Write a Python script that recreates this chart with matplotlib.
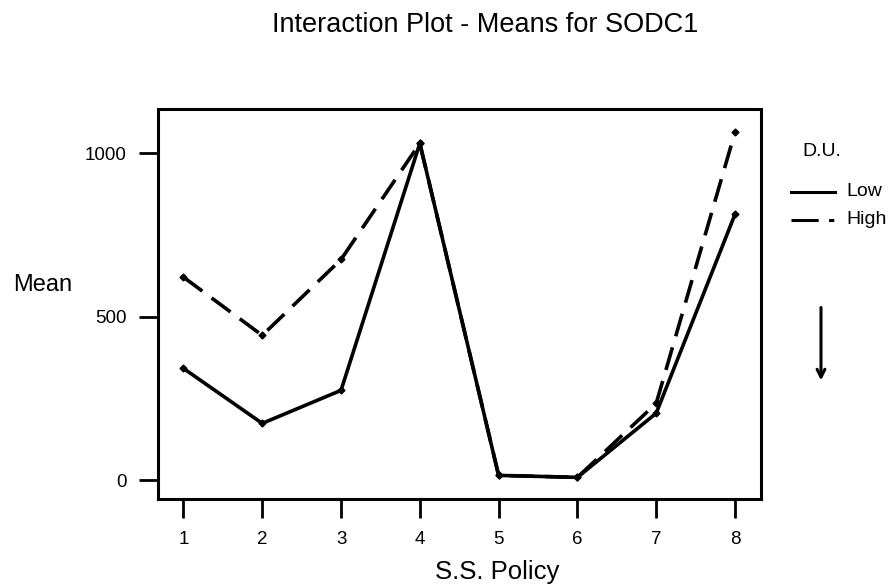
import matplotlib.pyplot as plt
import numpy as np

plt.rcParams['font.family'] = ['Liberation Sans', 'DejaVu Sans']

POLICY = [1, 2, 3, 4, 5, 6, 7, 8]
LOW = [342, 174, 275, 1030, 15, 9, 205, 813]
HIGH = [621, 443, 675, 1030, 15, 9, 235, 1064]
SERIES = ['Low', 'High']
YTICKS = [0, 500, 1000]

fig = plt.figure(figsize=(8.89, 5.86), dpi=100)
ax = fig.add_axes([0.178, 0.148, 0.678, 0.666])

# lines
ax.plot(POLICY, LOW, color='black', linewidth=2.6, linestyle='-',
        marker='D', markersize=3.5)
ax.plot(POLICY, HIGH, color='black', linewidth=2.6, linestyle=(0, (6.5, 3.2)),
        marker='D', markersize=3.5)

# axes
ax.set_xlim(0.68, 8.33)
ax.set_ylim(-58, 1135)
ax.set_xticks(POLICY)
ax.set_yticks(YTICKS)
ax.tick_params(direction='out', length=14, width=2, labelsize=13.5, pad=9)
for s in ax.spines.values():
    s.set_linewidth(2.2)

fig.text(0.559, 0.012, 'S.S. Policy', fontsize=18.5, ha='center', va='baseline')
fig.text(0.0146, 0.514, 'Mean', fontsize=17, ha='left', va='center')
fig.text(0.546, 0.957, 'Interaction Plot - Means for SODC1', fontsize=19.5,
         ha='center', va='center')

# legend drawn by hand like the original
fig.text(0.903, 0.742, 'D.U.', fontsize=14, ha='left', va='center')
fig.add_artist(plt.Line2D([0.890, 0.939], [0.673, 0.673], color='black',
                          linewidth=2.2, transform=fig.transFigure))
fig.add_artist(plt.Line2D([0.890, 0.939], [0.625, 0.625], color='black',
                          linewidth=2.2, linestyle=(0, (8.9, 3.4, 1.7, 10)),
                          transform=fig.transFigure))
fig.text(0.952, 0.673, SERIES[0], fontsize=14, ha='left', va='center')
fig.text(0.952, 0.625, SERIES[1], fontsize=14, ha='left', va='center')

# arrow
ax.annotate('', xy=(0.9235, 0.346), xytext=(0.9235, 0.48),
            xycoords='figure fraction', textcoords='figure fraction',
            arrowprops=dict(arrowstyle='->', color='black', lw=2.2,
                            mutation_scale=14))

fig.savefig('out.png', dpi=100)
